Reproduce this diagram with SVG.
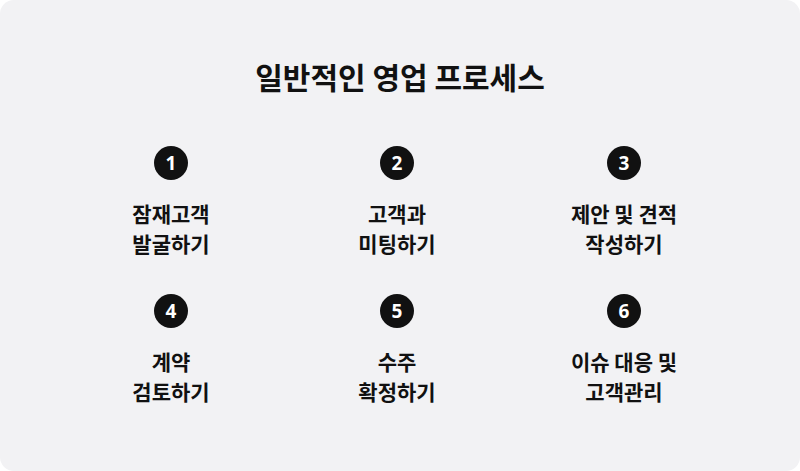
<svg xmlns="http://www.w3.org/2000/svg" width="800" height="471" viewBox="0 0 800 471">
<style>
.t{font-family:"Noto Sans CJK KR","Noto Sans",sans-serif;font-weight:700;fill:#111;text-anchor:middle}
.lb{font-size:21px}
.n{font-family:"Noto Sans","Liberation Sans",sans-serif;font-weight:700;font-size:19px;fill:#fff;text-anchor:middle}
</style>
<rect x="0" y="0" width="800" height="471" rx="14" fill="#f2f2f4"/>
<text class="t" x="400" y="89" font-size="30">일반적인 영업 프로세스</text>
<g id="step1"><circle cx="171" cy="163" r="17" fill="#111"/><text class="n" x="171" y="170">1</text><text class="t lb" x="171" y="222">잠재고객</text><text class="t lb" x="171" y="252">발굴하기</text></g>
<g id="step2"><circle cx="397" cy="163" r="17" fill="#111"/><text class="n" x="397" y="170">2</text><text class="t lb" x="397" y="222">고객과</text><text class="t lb" x="397" y="252">미팅하기</text></g>
<g id="step3"><circle cx="624" cy="163" r="17" fill="#111"/><text class="n" x="624" y="170">3</text><text class="t lb" x="624" y="222">제안 및 견적</text><text class="t lb" x="624" y="252">작성하기</text></g>
<g id="step4"><circle cx="171" cy="311" r="17" fill="#111"/><text class="n" x="171" y="318">4</text><text class="t lb" x="171" y="370">계약</text><text class="t lb" x="171" y="400">검토하기</text></g>
<g id="step5"><circle cx="397" cy="311" r="17" fill="#111"/><text class="n" x="397" y="318">5</text><text class="t lb" x="397" y="370">수주</text><text class="t lb" x="397" y="400">확정하기</text></g>
<g id="step6"><circle cx="624" cy="311" r="17" fill="#111"/><text class="n" x="624" y="318">6</text><text class="t lb" x="624" y="370">이슈 대응 및</text><text class="t lb" x="624" y="400">고객관리</text></g>
<g id="connectors"/>
</svg>
